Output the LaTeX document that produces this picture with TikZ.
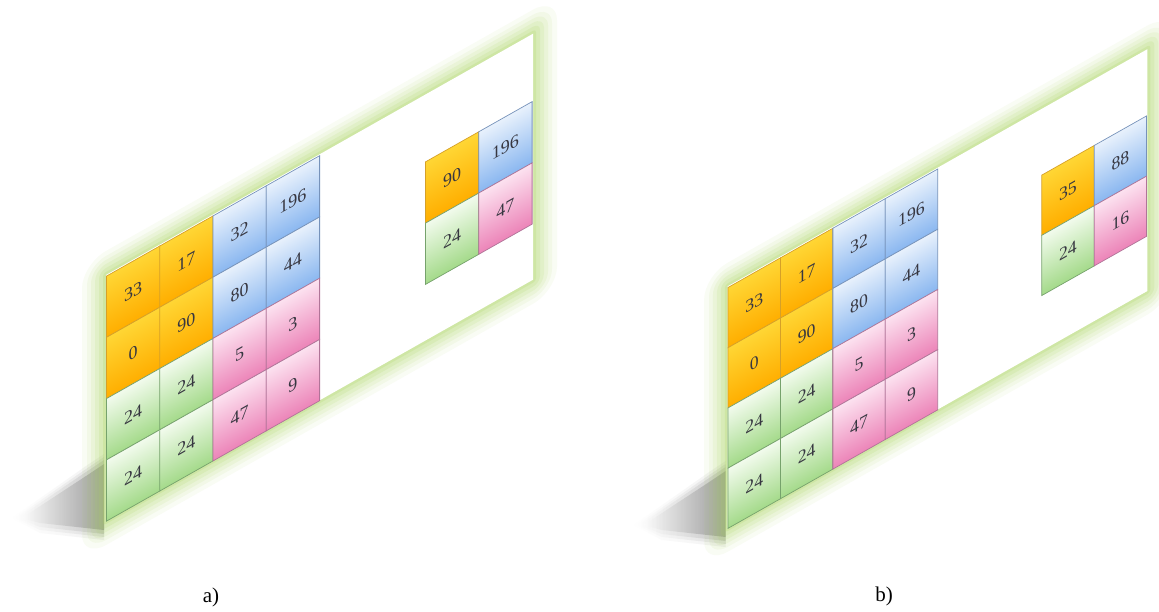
\documentclass[tikz,border=0pt]{standalone}
\usepackage{fontspec}
\setmainfont{Liberation Serif}
\definecolor{orgT}{RGB}{255,214,52}
\definecolor{orgB}{RGB}{255,174,0}
\definecolor{orgD}{RGB}{214,160,40}
\definecolor{bluT}{RGB}{232,241,252}
\definecolor{bluB}{RGB}{138,183,240}
\definecolor{bluD}{RGB}{118,146,186}
\definecolor{pnkT}{RGB}{252,226,240}
\definecolor{pnkB}{RGB}{236,132,184}
\definecolor{pnkD}{RGB}{176,116,152}
\definecolor{grnT}{RGB}{242,251,237}
\definecolor{grnB}{RGB}{164,218,138}
\definecolor{grnD}{RGB}{118,162,108}
\definecolor{glowc}{RGB}{172,214,100}
\definecolor{txtc}{RGB}{55,55,65}
\tikzset{
  cell/.style={draw, line width=0.8pt, minimum width=53.3pt, minimum height=61.25pt,
    inner sep=0pt, anchor=north west, text=txtc, font=\fontsize{18}{20}\selectfont},
  org/.style={cell, top color=orgT, bottom color=orgB, draw=orgD},
  blu/.style={cell, top color=bluT, bottom color=bluB, draw=bluD},
  pnk/.style={cell, top color=pnkT, bottom color=pnkB, draw=pnkD},
  grn/.style={cell, top color=grnT, bottom color=grnB, draw=grnD},
  caption/.style={font=\fontsize{21}{24}\selectfont, text=black},
  plane/.style={fill=white},
}
\newcommand{\glowplane}{%
  \foreach \w/\o in {48/0.07,38/0.09,30/0.11,22/0.13,14/0.16,6/0.22}
    \draw[glowc, line width=\w pt, opacity=\o, line join=round] (0,-1) rectangle (427,245);
  \fill[plane] (0,-1) rectangle (427,245);
}
\newcommand{\biggrid}[1]{%
  \foreach \c/\r/\s/\t in {0/0/org/33, 1/0/org/17, 2/0/blu/32, 3/0/blu/196,
                           0/1/org/0, 1/1/org/90, 2/1/blu/80, 3/1/blu/44,
                           0/2/grn/24, 1/2/grn/24, 2/2/pnk/5, 3/2/pnk/3,
                           0/3/grn/24, 1/3/grn/24, 2/3/pnk/47, 3/3/pnk/9}
    \node[\s] (#1g\c\r) at (\c*53.3, \r*61.25) {\t};
}
\newcommand{\shadowshape}{%
  \foreach \d/\o in {10/0.08,7/0.12,4/0.18,0/0.4}
    \shade[left color=white, right color=black!65, opacity=\o]
      (22-\d,518) -- (86,476-\d) -- (104,464-\d) -- (104,530+\d) -- (40,523+\d) -- cycle;
}
\begin{document}
\begin{tikzpicture}[x=1pt,y=-1pt]
\useasboundingbox[fill=white] (0,0) rectangle (1159,612);
% shadows
\shadowshape
\begin{scope}[shift={(621.7,7)}]
  \shadowshape
\end{scope}
% panel a
\begin{scope}[transform canvas={cm={1,0.565,0,1,(106pt,-276pt)}}]
  \glowplane
  \biggrid{A}
  \node[org] (As00) at (319.1,66) {90};
  \node[blu] (As10) at (372.4,66) {196};
  \node[grn] (As01) at (319.1,127.25) {24};
  \node[pnk] (As11) at (372.4,127.25) {47};
\end{scope}
% panel b
\begin{scope}[transform canvas={cm={0.983,0.5554,0,0.983,(727.7pt,-287.3pt)}}]
  \glowplane
  \biggrid{B}
  \node[org] (Bs00) at (319.1,66) {35};
  \node[blu] (Bs10) at (372.4,66) {88};
  \node[grn] (Bs01) at (319.1,127.25) {24};
  \node[pnk] (Bs11) at (372.4,127.25) {16};
\end{scope}
\node[caption] (capa) at (211,597) {a)};
\node[caption] (capb) at (884,596) {b)};
\end{tikzpicture}
\end{document}
